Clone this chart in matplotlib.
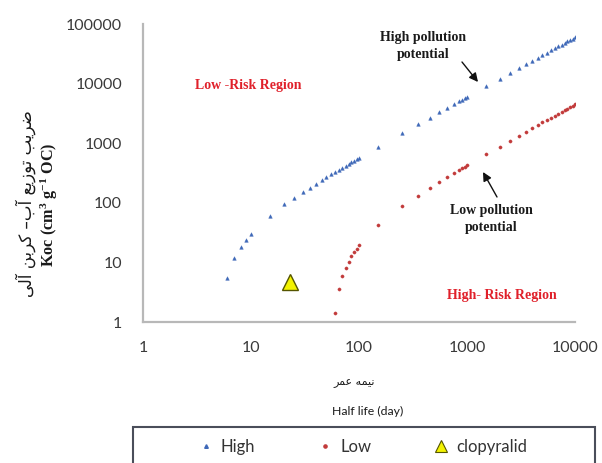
import matplotlib
matplotlib.use("Agg")
import matplotlib.pyplot as plt
from matplotlib.ticker import FixedLocator, FixedFormatter, NullLocator
from matplotlib.patches import Rectangle
from matplotlib.lines import Line2D

# ---------------- data ----------------
high_x = [6, 7, 8, 9, 10, 15, 20, 25, 30, 35, 40, 45, 50, 55, 60, 65, 70, 75, 80, 85, 90, 95, 100,
          150, 250, 350, 450, 550, 650, 750, 850, 900, 950, 1000,
          1500, 2000, 2500, 3000, 3500, 4000, 4500, 5000, 5500, 6000, 6500, 7000, 7500, 8000,
          8500, 9000, 9500, 10000]
high_y = [5.5, 12, 18, 24, 30, 60, 95, 120, 150, 180, 210, 240, 270, 300, 330, 360, 390, 420, 450,
          480, 510, 540, 575,
          880, 1480, 2080, 2680, 3280, 3880, 4480, 5080, 5380, 5680, 5980,
          9000, 12000, 15000, 18000, 21000, 24000, 27000, 30000, 33000, 36000, 39000, 42000,
          45000, 48000, 51000, 54000, 57000, 61000]

low_x = [60, 65, 70, 75, 80, 85, 90, 95, 100,
         150, 250, 350, 450, 550, 650, 750, 850, 900, 950, 1000,
         1500, 2000, 2500, 3000, 3500, 4000, 4500, 5000, 5500, 6000, 6500, 7000, 7500, 8000,
         8500, 9000, 9500, 10000]
low_y = [1.4, 3.6, 5.8, 8.1, 10.3, 12.6, 14.8, 17.1, 19.4,
         42, 87, 132, 177, 222, 267, 312, 357, 380, 402, 424,
         650, 875, 1100, 1325, 1550, 1775, 2000, 2225, 2450, 2675, 2900, 3125, 3350, 3575,
         3800, 4025, 4250, 4475]

clop_x = [23]
clop_y = [4.6]

series_labels = ["High", "Low", "clopyralid"]
x_ticks = [1, 10, 100, 1000, 10000]
x_tick_labels = ["1", "10", "100", "1000", "10000"]
y_ticks = [1, 10, 100, 1000, 10000, 100000]
y_tick_labels = ["1", "10", "100", "1000", "10000", "100000"]

# ---------------- Persian text (shaped with presentation forms, visual order) ----------------
def visual(words):
    s = " ".join("".join(chr(c) for c in w) for w in words)
    return s[::-1]

# ضریب توزیع آب– کربن آلی
ylab_fa = visual([
    [0xFEBF, 0xFEAE, 0xFEF3, 0xFE90],            # ضریب
    [0xFE97, 0xFEEE, 0xFEAF, 0xFEF3, 0xFECA],    # توزیع
    [0xFE81, 0xFE8F, 0x2013],                    # آب–
    [0xFEDB, 0xFEAE, 0xFE91, 0xFEE6],            # کربن
    [0xFE81, 0xFEDF, 0xFEF0],                    # آلی
])
# نیمه عمر
xlab_fa = visual([
    [0xFEE7, 0xFEF4, 0xFEE4, 0xFEEA],
    [0xFECB, 0xFEE4, 0xFEAE],
])

# ---------------- figure ----------------
plt.rcParams['mathtext.fontset'] = 'custom'
plt.rcParams['mathtext.rm'] = 'Liberation Serif:bold'
plt.rcParams['mathtext.it'] = 'Liberation Serif:bold'
plt.rcParams['mathtext.bf'] = 'Liberation Serif:bold'

W, H = 602, 463
fig = plt.figure(figsize=(W / 100, H / 100), dpi=100)
ax = fig.add_axes([143 / W, 141 / H, 432 / W, 298 / H])

blue = '#3E68B8'
red = '#C23B3B'

ax.plot(high_x, high_y, linestyle='none', marker='^', ms=2.6, color=blue, mec=blue, mew=0.3)
ax.plot(low_x, low_y, linestyle='none', marker='o', ms=2.3, color=red, mec=red, mew=0.3)
ax.plot(clop_x, clop_y, linestyle='none', marker='^', ms=11, color='#F2F200', mec='#555500', mew=1.0)

ax.set_xscale('log')
ax.set_yscale('log')
ax.set_xlim(1, 10000)
ax.set_ylim(1, 100000)
ax.xaxis.set_major_locator(FixedLocator(x_ticks))
ax.xaxis.set_major_formatter(FixedFormatter(x_tick_labels))
ax.yaxis.set_major_locator(FixedLocator(y_ticks))
ax.yaxis.set_major_formatter(FixedFormatter(y_tick_labels))
ax.xaxis.set_minor_locator(NullLocator())
ax.yaxis.set_minor_locator(NullLocator())
ax.tick_params(axis='both', length=0, labelsize=11.5, labelcolor='#3A3A3A')
ax.tick_params(axis='x', pad=14)
ax.tick_params(axis='y', pad=15)
for lab in ax.get_xticklabels() + ax.get_yticklabels():
    lab.set_fontfamily('Lato')

for side in ('top', 'right'):
    ax.spines[side].set_visible(False)
for side in ('left', 'bottom'):
    ax.spines[side].set_color('#B8B8B8')
    ax.spines[side].set_linewidth(1.6)

# region labels
serif = 'Liberation Serif'

def fig_xy(px, py):
    return (px / W, 1 - py / H)

fig.text(*fig_xy(248, 85), 'Low -Risk Region', ha='center', va='center', color='#E0202A',
         fontsize=10, fontweight='bold', family=serif)
fig.text(*fig_xy(502, 296), 'High- Risk Region', ha='center', va='center', color='#E0202A',
         fontsize=10, fontweight='bold', family=serif)

fig.text(*fig_xy(423, 46), 'High pollution\npotential', ha='center', va='center',
         fontsize=10, fontweight='bold', family=serif, linespacing=1.4, color='#1A1A1A')
fig.text(*fig_xy(491, 219), 'Low pollution\npotential', ha='center', va='center',
         fontsize=10, fontweight='bold', family=serif, linespacing=1.4, color='#1A1A1A')

arrowprops = dict(arrowstyle='-|>', mutation_scale=13, color='#111111', lw=1.0,
                  shrinkA=0, shrinkB=0)
ax.annotate('', xy=fig_xy(478, 82), xytext=fig_xy(462, 62), xycoords='figure fraction',
            textcoords='figure fraction', arrowprops=arrowprops)
ax.annotate('', xy=fig_xy(483, 172), xytext=fig_xy(497, 197), xycoords='figure fraction',
            textcoords='figure fraction', arrowprops=arrowprops)

# axis titles
fig.text(*fig_xy(26, 204), ylab_fa, rotation=90, ha='center', va='center',
         fontsize=12, family='DejaVu Sans', color='#1A1A1A')
fig.text(*fig_xy(49, 205), 'Koc (cm$^{3}$ g$^{-1}$ OC)', rotation=90, ha='center', va='center',
         fontsize=11.7, fontweight='bold', family=serif, color='#1A1A1A')
fig.text(*fig_xy(354, 383), xlab_fa, ha='center', va='center',
         fontsize=8, family='DejaVu Sans', color='#1A1A1A')
fig.text(*fig_xy(368, 411), 'Half life (day)', ha='center', va='center',
         fontsize=8.8, family='Lato', color='#1A1A1A')

# legend
fig.add_artist(Rectangle((133 / W, -10 / H), (595 - 133) / W, (463 - 427 + 10) / H,
                         transform=fig.transFigure, fill=False, edgecolor='#4A4E5A', lw=1.5))
handles = [
    Line2D([], [], linestyle='none', marker='^', ms=2.6, color=blue),
    Line2D([], [], linestyle='none', marker='o', ms=2.3, color=red),
    Line2D([], [], linestyle='none', marker='^', ms=8, color='#F2F200', mec='#555500', mew=0.8),
]
leg = fig.legend(handles, series_labels, loc='center', bbox_to_anchor=fig_xy(363, 447),
                 ncol=3, frameon=False, handlelength=0.8, handletextpad=0.5,
                 columnspacing=3.8, prop={'family': 'Lato', 'size': 12})
for t in leg.get_texts():
    t.set_color('#333333')

fig.savefig('out.png', dpi=100)
